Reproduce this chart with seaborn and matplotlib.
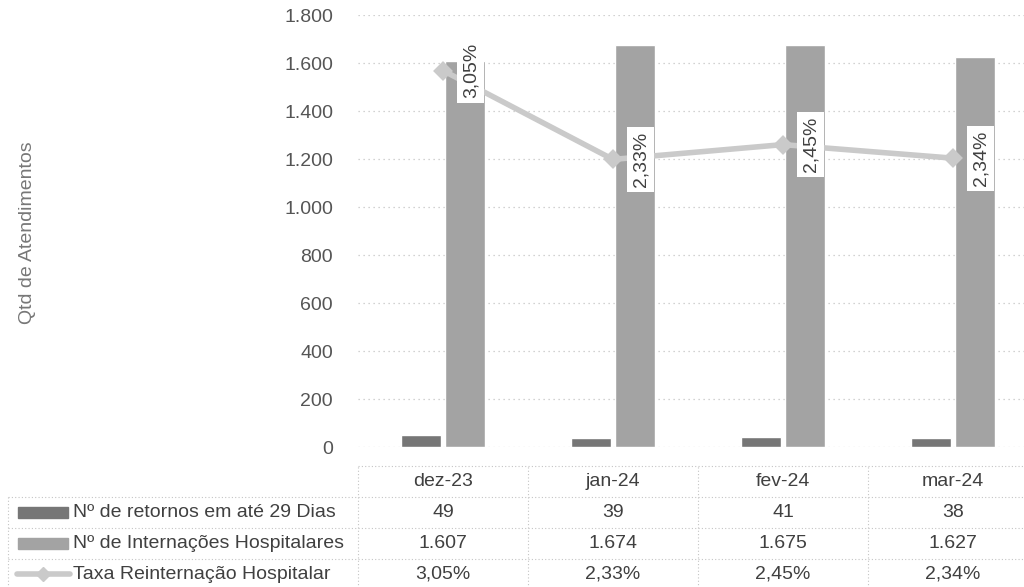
import numpy as np
import pandas as pd
import matplotlib
matplotlib.use("Agg")
import matplotlib.pyplot as plt
import matplotlib.transforms as mtransforms
from matplotlib.patches import Rectangle
from matplotlib.lines import Line2D
import seaborn as sns

# dados
meses = ["dez-23", "jan-24", "fev-24", "mar-24"]
retornos = [49, 39, 41, 38]
internacoes = [1607, 1674, 1675, 1627]
taxa = [3.05, 2.33, 2.45, 2.34]
series = ["Nº de retornos em até 29 Dias", "Nº de Internações Hospitalares",
          "Taxa Reinternação Hospitalar"]
yticks = [0, 200, 400, 600, 800, 1000, 1200, 1400, 1600, 1800]

cor_ret = "#767676"
cor_int = "#a3a3a3"
cor_taxa = "#cacaca"
cor_grid = "#c4c4c4"
cor_txt = "#404040"

sns.set_style("white")
plt.rcParams["font.family"] = ["Liberation Sans", "DejaVu Sans"]

df = pd.DataFrame({
    "mes": meses * 2,
    "valor": retornos + internacoes,
    "serie": [series[0]] * 4 + [series[1]] * 4,
})

W, H = 1024, 587
fig = plt.figure(figsize=(W / 100, H / 100), dpi=100)

# eixo principal (barras)
x0, x1 = 358, 1038
ax = fig.add_axes([x0 / W, 1 - 447 / H, (x1 - x0) / W, (447 - 15) / H])
sns.barplot(data=df, x="mes", y="valor", hue="serie", palette=[cor_ret, cor_int],
            width=0.52, gap=0.08, ax=ax, legend=False, saturation=1)
ax.set_ylim(0, 1800)
ax.set_xlim(-0.5, 3.5)
ax.set_yticks(yticks)
ax.set_yticklabels([f"{v:,}".replace(",", ".") for v in yticks])
ax.tick_params(axis="y", length=0, pad=18, labelsize=14, labelcolor="#555555")
ax.set_xticks([])
ax.set_xlabel("")
ax.set_ylabel("Qtd de Atendimentos", fontsize=14, color="#777777", labelpad=0)
ax.yaxis.set_label_coords(-(x0 - 36) / (x1 - x0), 0.497)
ax.grid(axis="y", color=cor_grid, linestyle=(0, (1, 3)), linewidth=0.9)
ax.set_axisbelow(True)
for s in ax.spines.values():
    s.set_visible(False)

# eixo secundario (taxa)
ax2 = ax.twinx()
sns.pointplot(x=meses, y=taxa, ax=ax2, color=cor_taxa, markers="D",
              markersize=7, linewidth=4, err_kws={"linewidth": 0})
ax2.set_ylim(0, 3.5)
ax2.set_xlim(-0.5, 3.5)
ax2.set_yticks([])
ax2.set_ylabel("")
for s in ax2.spines.values():
    s.set_visible(False)
for i, v in enumerate(taxa):
    ax2.annotate(f"{v:.2f}".replace(".", ",") + "%", xy=(i, v), xytext=(20, 0),
                 textcoords="offset points", rotation=90, ha="center", va="center",
                 fontsize=14, color=cor_txt,
                 bbox=dict(boxstyle="square,pad=0.25", fc="white", ec="none"))

# tabela de dados
tab = fig.add_axes([x0 / W, 1 - 590 / H, (x1 - x0) / W, 124 / H])
tab.set_xlim(-0.5, 3.5)
tab.set_ylim(0, 4)
tab.axis("off")
bt = mtransforms.blended_transform_factory(fig.transFigure, tab.transData)
dot = dict(color=cor_grid, linestyle=(0, (1, 2)), linewidth=0.8, clip_on=False)

tab.plot([-0.5, 3.5], [4, 4], **dot)
for yy in [3, 2, 1, 0]:
    tab.add_line(Line2D([8 / W, x1 / W], [yy, yy], transform=bt, **dot))
for xx in [-0.5, 0.5, 1.5, 2.5, 3.5]:
    tab.plot([xx, xx], [0, 4], **dot)
tab.add_line(Line2D([8 / W, 8 / W], [0, 3], transform=bt, **dot))

linhas = [
    [f"{v}" for v in retornos],
    [f"{v:,}".replace(",", ".") for v in internacoes],
    [f"{v:.2f}".replace(".", ",") + "%" for v in taxa],
]
for i, m in enumerate(meses):
    tab.text(i, 3.5, m, ha="center", va="center", fontsize=14, color=cor_txt)
    for r, lin in enumerate(linhas):
        tab.text(i, 2.5 - r, lin[i], ha="center", va="center", fontsize=14, color=cor_txt)

for r, nome in enumerate(series):
    yc = 2.5 - r
    tab.text(73 / W, yc, nome, transform=bt, ha="left", va="center",
             fontsize=14, color=cor_txt)
    if r < 2:
        tab.add_patch(Rectangle((18 / W, yc - 0.18), 50 / W, 0.36, transform=bt,
                                color=[cor_ret, cor_int][r], clip_on=False))
    else:
        tab.add_line(Line2D([17 / W, 70 / W], [yc, yc], transform=bt, color=cor_taxa,
                            linewidth=4, marker="", clip_on=False))
        tab.add_line(Line2D([43 / W], [yc], transform=bt, color=cor_taxa,
                            marker="D", markersize=7, clip_on=False))

fig.savefig("out.png", dpi=100)
